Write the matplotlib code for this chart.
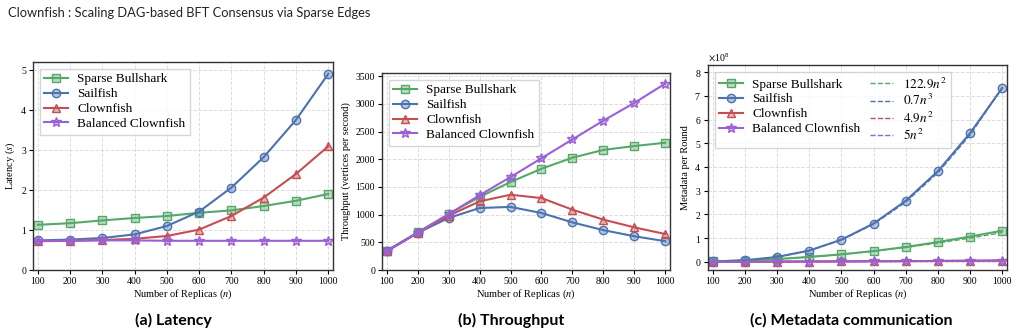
import numpy as np
import matplotlib
matplotlib.use("Agg")
import matplotlib.pyplot as plt

# replica counts
replicas = [100, 200, 300, 400, 500, 600, 700, 800, 900, 1000]
series_names = ["Sparse Bullshark", "Sailfish", "Clownfish", "Balanced Clownfish"]

# latency (s)
lat_bullshark = [1.13, 1.17, 1.24, 1.30, 1.35, 1.43, 1.49, 1.60, 1.73, 1.90]
lat_sailfish = [0.74, 0.76, 0.80, 0.89, 1.10, 1.46, 2.06, 2.82, 3.75, 4.90]
lat_clownfish = [0.72, 0.73, 0.75, 0.78, 0.85, 1.01, 1.35, 1.81, 2.40, 3.09]
lat_balanced = [0.73, 0.73, 0.74, 0.74, 0.73, 0.73, 0.73, 0.73, 0.73, 0.73]

# throughput (vertices per second)
thr_bullshark = [350, 680, 1010, 1320, 1590, 1830, 2030, 2170, 2240, 2300]
thr_sailfish = [340, 670, 940, 1120, 1140, 1030, 860, 720, 610, 520]
thr_clownfish = [340, 670, 980, 1240, 1360, 1300, 1090, 910, 770, 650]
thr_balanced = [340, 670, 1010, 1350, 1680, 2020, 2360, 2700, 3020, 3370]

# metadata per round (x1e8)
meta_bullshark = [0.01, 0.05, 0.11, 0.20, 0.31, 0.45, 0.62, 0.83, 1.06, 1.31]
meta_sailfish = [0.01, 0.06, 0.20, 0.47, 0.93, 1.61, 2.57, 3.82, 5.42, 7.33]
meta_clownfish = [0.0005, 0.002, 0.0045, 0.008, 0.012, 0.018, 0.024, 0.031, 0.040, 0.049]
meta_balanced = [0.0005, 0.002, 0.0045, 0.008, 0.0125, 0.018, 0.0245, 0.032, 0.0405, 0.05]

# fitted curves: coefficient, exponent, legend label
fit_coef = [122.9, 0.733, 4.9, 5.0]
fit_exp = [2, 3, 2, 2]
fit_labels = [r"$122.9n^2$", r"$0.7n^3$", r"$4.9n^2$", r"$5n^2$"]

colors = ["#55a868", "#4c72b0", "#c44e52", "#9b5fd6"]
markers = ["s", "o", "^", "*"]

plt.rcParams["font.family"] = ["Liberation Serif", "DejaVu Serif"]
plt.rcParams["mathtext.fontset"] = "stix"

fig = plt.figure(figsize=(10.18, 3.36), dpi=100)
W, H = 1018, 336


def add_ax(l, t, r, b):
    return fig.add_axes([l / W, 1 - b / H, (r - l) / W, (b - t) / H])


ax_a = add_ax(33, 62, 333, 270)
ax_b = add_ax(382, 73, 670, 270)
ax_c = add_ax(708, 65, 1007, 270)

leg_kw = dict(loc="upper left", fontsize=9.5, frameon=True, fancybox=False,
              edgecolor="#cccccc", borderpad=0.35, labelspacing=0.2,
              handlelength=1.8, handletextpad=0.7)


def style(ax):
    ax.grid(True, linestyle="--", color="#dddddd", linewidth=0.7)
    ax.set_axisbelow(True)
    for s in ax.spines.values():
        s.set_color("#333333")
        s.set_linewidth(1.0)
    ax.set_xticks(replicas)
    ax.set_xlim(85, 1015)
    ax.tick_params(labelsize=7, length=3, width=0.8, pad=2)
    ax.set_xlabel(r"Number of Replicas ($n$)", fontsize=7.5, labelpad=1)


def draw(ax, data, scale=1.0):
    hs = []
    for ys, c, m, name in zip(data, colors, markers, series_names):
        ms = 7.5 if m == "*" else 6
        h, = ax.plot(replicas, np.array(ys) * scale, color=c, marker=m, markersize=ms,
                     linewidth=1.5, markerfacecolor=matplotlib.colors.to_rgba(c, 0.4),
                     markeredgecolor=c, markeredgewidth=1.0, label=name)
        hs.append(h)
    return hs


draw(ax_a, [lat_bullshark, lat_sailfish, lat_clownfish, lat_balanced])
style(ax_a)
ax_a.set_ylim(0, 5.2)
ax_a.set_ylabel(r"Latency ($s$)", fontsize=7.5, labelpad=3)
ax_a.legend(**leg_kw)

draw(ax_b, [thr_bullshark, thr_sailfish, thr_clownfish, thr_balanced])
style(ax_b)
ax_b.set_ylim(0, 3560)
ax_b.set_yticks(range(0, 3501, 500))
ax_b.set_ylabel("Throughput (vertices per second)", fontsize=7.5, labelpad=3)
ax_b.legend(**leg_kw)

hs = draw(ax_c, [meta_bullshark, meta_sailfish, meta_clownfish, meta_balanced], 1e8)
n = np.array(replicas, dtype=float)
fits = []
for k, e, lab, c in zip(fit_coef, fit_exp, fit_labels, colors):
    f, = ax_c.plot(n, k * n ** e, color=c, linestyle="--", linewidth=1.0, label=lab)
    fits.append(f)
style(ax_c)
ax_c.set_ylim(-0.35e8, 8.3e8)
ax_c.set_yticks(np.arange(0, 8.1e8, 1e8))
ax_c.ticklabel_format(axis="y", style="sci", scilimits=(0, 0), useMathText=True)
ax_c.yaxis.get_offset_text().set_fontsize(7)
ax_c.set_ylabel("Metadata per Round", fontsize=7.5, labelpad=3)
ax_c.legend(hs + fits, series_names + fit_labels, ncol=2, columnspacing=0.7, **leg_kw)

fig.text(0.008, 0.96, "Clownfish : Scaling DAG-based BFT Consensus via Sparse Edges",
         fontsize=9.3, family="Lato", va="center", ha="left", color="#222222")
for x, cap in [(173, "(a) Latency"), (511, "(b) Throughput"), (851, "(c) Metadata communication")]:
    fig.text(x / W, 1 - 320 / H, cap, fontsize=11.5, family="Lato", weight="bold",
             ha="center", va="center")

fig.savefig("out.png", dpi=100)
